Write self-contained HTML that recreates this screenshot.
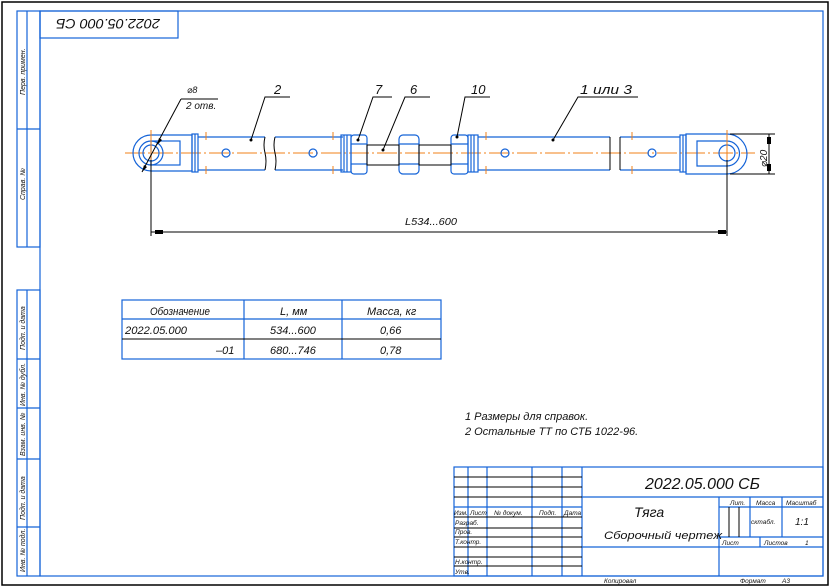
<!DOCTYPE html>
<html><head><meta charset="utf-8"><style>
html,body{margin:0;padding:0;background:#fff}
svg{display:block}
text{font-family:"Liberation Sans","DejaVu Sans",sans-serif;font-style:italic;fill:#111}
.b{stroke:#1463d8;fill:none;stroke-width:1.2}
.k{stroke:#000;fill:none;stroke-width:1}
.o{stroke:#f08018;fill:none;stroke-width:1}
</style></head><body>
<svg width="830" height="588" viewBox="0 0 830 588" xmlns="http://www.w3.org/2000/svg">
<rect x="2" y="2" width="826" height="583" fill="none" stroke="#000" stroke-width="1.5"/>
<!-- frame -->
<rect x="40" y="11" width="783" height="565" class="b" stroke-width="1.6"/>
<!-- left strip -->
<g class="b">
<rect x="17" y="11" width="23" height="236"/>
<line x1="27" y1="11" x2="27" y2="247"/>
<line x1="17" y1="129" x2="40" y2="129"/>
<rect x="17" y="290" width="23" height="286"/>
<line x1="27" y1="290" x2="27" y2="576"/>
<line x1="17" y1="359" x2="40" y2="359"/>
<line x1="17" y1="408" x2="40" y2="408"/>
<line x1="17" y1="459" x2="40" y2="459"/>
<line x1="17" y1="527" x2="40" y2="527"/>
<rect x="40" y="11" width="138" height="27"/>
</g>
<g font-size="7">
<text transform="translate(25,95) rotate(-90)">Перв. примен.</text>
<text transform="translate(25,200) rotate(-90)">Справ. №</text>
<text transform="translate(25,350) rotate(-90)">Подп. и дата</text>
<text transform="translate(25,406) rotate(-90)">Инв. № дубл.</text>
<text transform="translate(25,456) rotate(-90)">Взам. инв. №</text>
<text transform="translate(25,520) rotate(-90)">Подп. и дата</text>
<text transform="translate(25,572) rotate(-90)">Инв. № подл.</text>
</g>
<text transform="translate(160,19) rotate(180)" font-size="14" textLength="104" lengthAdjust="spacingAndGlyphs">2022.05.000 СБ</text>

<!-- centerline -->
<line x1="125" y1="153" x2="755" y2="153" class="o" stroke-dasharray="20 3 2 3"/>
<!-- left eye -->
<g class="b">
<path d="M151,135 A18,18 0 0 0 151,171"/>
<path d="M151,135 H192 V171 H151"/>
<circle cx="151" cy="153" r="12"/>
<circle cx="151" cy="153" r="8"/>
<rect x="151" y="141" width="29" height="24"/>
<rect x="192" y="134" width="6" height="38"/>
<line x1="195" y1="134" x2="195" y2="172"/>
<path d="M198,137 H265 M198,170 H265"/>
<path d="M265,137 q-2,8 0,16 q2,8 0,17" class="k"/>
<path d="M275,137 H343 M275,170 H343"/>
<path d="M275,137 q-2,8 0,16 q2,8 0,17" class="k"/>
<circle cx="226" cy="153" r="4"/>
<circle cx="313" cy="153" r="4"/>
<rect x="341" y="135" width="10" height="37"/>
<line x1="344" y1="135" x2="344" y2="172"/><line x1="347" y1="135" x2="347" y2="172"/>
<rect x="351" y="135" width="16" height="39" rx="3"/>
<line x1="351" y1="144" x2="367" y2="144"/><line x1="351" y1="164" x2="367" y2="164"/>
<rect x="399" y="135" width="20" height="39" rx="4"/>
<line x1="399" y1="144" x2="419" y2="144"/><line x1="399" y1="164" x2="419" y2="164"/>
<rect x="451" y="135" width="17" height="39" rx="3"/>
<line x1="451" y1="144" x2="468" y2="144"/><line x1="451" y1="164" x2="468" y2="164"/>
<rect x="468" y="135" width="10" height="37"/>
<line x1="471" y1="135" x2="471" y2="172"/><line x1="474" y1="135" x2="474" y2="172"/>
<path d="M478,137 H610 M478,170 H610"/>
<path d="M620,137 H680 M620,170 H680"/>
<circle cx="505" cy="153" r="4"/>
<circle cx="652" cy="153" r="4"/>
<rect x="680" y="135" width="6" height="37"/>
<line x1="683" y1="135" x2="683" y2="172"/>
<path d="M686,134 H727 A20,20 0 0 1 727,174 H686 Z"/>
<path d="M697,141 H727 A12,12 0 0 1 727,166 H697 Z"/>
<circle cx="727" cy="153" r="8"/>
</g>
<g class="k">
<rect x="367" y="145" width="32" height="20"/>
<rect x="419" y="145" width="32" height="20"/>
<line x1="610" y1="137" x2="610" y2="170"/><line x1="620" y1="137" x2="620" y2="170"/>
</g>
<g class="o">
<path d="M151,130 V176 M206,132 V140 M206,166 V174 M333,132 V140 M333,166 V174 M486,132 V140 M486,166 V174 M632,132 V140 M632,166 V174 M727,130 V176"/>
</g>
<!-- dimensions -->
<g class="k">
<line x1="151" y1="160" x2="151" y2="236"/>
<line x1="727" y1="160" x2="727" y2="236"/>
<line x1="151" y1="232" x2="727" y2="232"/>
<line x1="730" y1="134" x2="775" y2="134"/>
<line x1="730" y1="174" x2="775" y2="174"/>
<line x1="769" y1="134" x2="769" y2="174"/>
<line x1="142" y1="172" x2="181" y2="99"/>
<line x1="181" y1="99" x2="218" y2="99"/>
<path d="M251,140 L265,97 H290 M358,140 L373,97 H392 M383,150 L405,97 H430 M457,137 L465,97 H490 M553,140 L578,97 H638"/>
</g>
<g fill="#000">
<path d="M155,230 h8 v4 h-8z M718,230 h8 v4 h-8z M767,137 h4 v7 h-4z M767,164 h4 v7 h-4z"/>
<circle cx="251" cy="140" r="1.5"/><circle cx="358" cy="140" r="1.5"/><circle cx="383" cy="150" r="1.5"/><circle cx="457" cy="137" r="1.5"/><circle cx="553" cy="140" r="1.5"/>
<path d="M142,172 l2,-7 l3,2z M157,145 l2,-7 l3,2z"/>
</g>
<g font-size="13">
<text x="274" y="94">2</text>
<text x="375" y="94">7</text>
<text x="410" y="94">6</text>
<text x="471" y="94">10</text>
<text x="580" y="94" textLength="52" lengthAdjust="spacingAndGlyphs">1 или 3</text>
</g>
<text x="187" y="93" font-size="9">⌀8</text>
<text x="186" y="109" font-size="10">2 отв.</text>
<text transform="translate(767,167) rotate(-90)" font-size="10">⌀20</text>
<text x="405" y="225" font-size="10" textLength="52" lengthAdjust="spacingAndGlyphs">L534...600</text>

<!-- table -->
<g class="b">
<rect x="122" y="300" width="319" height="59"/>
<line x1="244" y1="300" x2="244" y2="359"/><line x1="342" y1="300" x2="342" y2="359"/>
<line x1="122" y1="319" x2="441" y2="319"/>
</g>
<line x1="122" y1="339" x2="441" y2="339" class="k"/>
<g font-size="11">
<text x="150" y="315" textLength="60" lengthAdjust="spacingAndGlyphs">Обозначение</text>
<text x="280" y="315">L, мм</text>
<text x="367" y="315">Масса, кг</text>
<text x="125" y="334" textLength="62" lengthAdjust="spacingAndGlyphs">2022.05.000</text>
<text x="270" y="334">534...600</text>
<text x="380" y="334">0,66</text>
<text x="216" y="354">–01</text>
<text x="270" y="354">680...746</text>
<text x="380" y="354">0,78</text>
</g>
<g font-size="11">
<text x="465" y="420">1 Размеры для справок.</text>
<text x="465" y="435">2 Остальные ТТ по СТБ 1022-96.</text>
</g>

<!-- title block -->
<g class="b">
<rect x="454" y="467" width="369" height="109"/>
<path d="M468,467 V576 M487,467 V576 M532,467 V576 M562,467 V576 M582,467 V576"/>
<path d="M582,497 H823 M454,507 H582 M582,547 H823 M719,497 V576 M719,537 H823 M719,507 H823 M750,497 V537 M782,497 V537 M760,537 V547"/>
</g>
<g class="k">
<path d="M454,477 H582 M454,487 H582 M454,497 H582 M454,517 H582 M454,528 H582 M454,537 H582 M454,547 H582 M454,557 H582 M454,566 H582 M729,507 V537 M739,507 V537"/>
</g>
<text x="645" y="489" font-size="16" textLength="115" lengthAdjust="spacingAndGlyphs">2022.05.000 СБ</text>
<text x="634" y="517" font-size="14">Тяга</text>
<text x="604" y="539" font-size="11" textLength="118" lengthAdjust="spacingAndGlyphs">Сборочный чертеж</text>
<g font-size="6.5">
<text x="454" y="515">Изм.</text><text x="470" y="515">Лист</text><text x="494" y="515">№ докум.</text><text x="539" y="515">Подп.</text><text x="564" y="515">Дата</text>
<text x="455" y="525">Разраб.</text><text x="455" y="534">Пров.</text><text x="455" y="544">Т.контр.</text>
<text x="455" y="564">Н.контр.</text><text x="455" y="574">Утв.</text>
<text x="730" y="505">Лит.</text><text x="756" y="505">Масса</text><text x="786" y="505">Масштаб</text>
<text x="751" y="524">сктабл.</text>
<text x="722" y="545">Лист</text><text x="764" y="545">Листов</text><text x="805" y="545">1</text>
<text x="604" y="583">Копировал</text><text x="740" y="583">Формат</text><text x="782" y="583">А3</text>
</g>
<text x="795" y="525" font-size="10">1:1</text>
</svg>
</body></html>
